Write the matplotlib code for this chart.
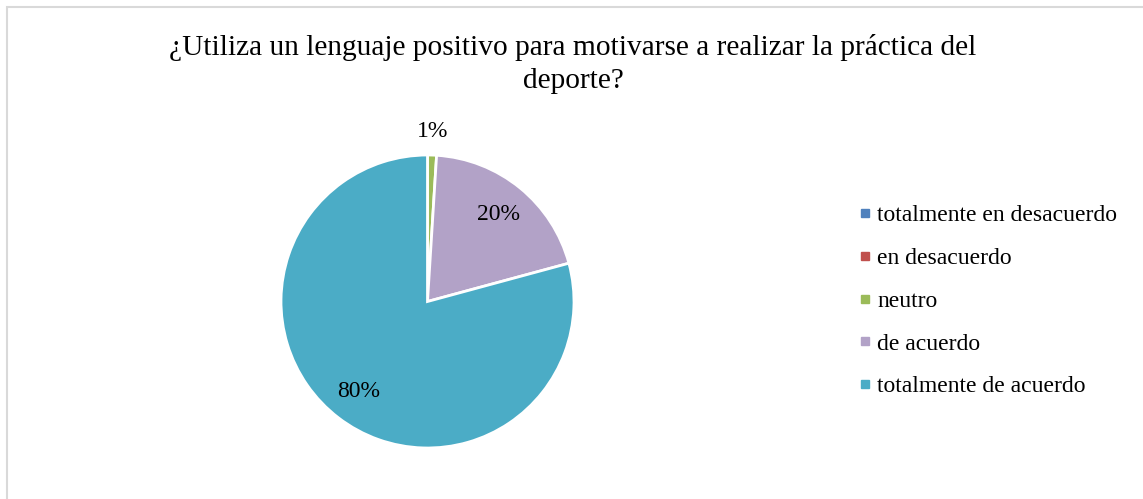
import numpy as np
import matplotlib.pyplot as plt
from matplotlib.lines import Line2D
from matplotlib.patches import Rectangle

plt.rcParams['font.family'] = ['Liberation Serif', 'DejaVu Serif']

# Survey answers (percent)
categories = ['totalmente en desacuerdo', 'en desacuerdo', 'neutro',
              'de acuerdo', 'totalmente de acuerdo']
values = [0, 0, 1, 20, 80]
colors = ['#4F81BD', '#C0504D', '#9BBB59', '#B2A2C7', '#4BACC6']
title = '¿Utiliza un lenguaje positivo para motivarse a realizar la práctica del\ndeporte?'

W, H = 1143, 499
fig = plt.figure(figsize=(W / 100, H / 100), dpi=100)

# chart area frame
fig.patches.append(Rectangle((7 / W, -0.1), 1.2, 1 - 7 / H + 0.1,
                             transform=fig.transFigure, fill=False,
                             edgecolor='#d9d9d9', lw=1.5))

cx, cy, r = 427.5, 301.5, 146.5
ax = fig.add_axes([(cx - r) / W, 1 - (cy + r) / H, 2 * r / W, 2 * r / H])
wedges, _ = ax.pie(values, colors=colors, startangle=90, counterclock=False,
                   radius=1, wedgeprops=dict(edgecolor='white', linewidth=2))
ax.set_xlim(-1, 1)
ax.set_ylim(-1, 1)
ax.set_aspect('equal')
ax.axis('off')

# percentage labels at wedge mid-angles
total = sum(values)
start = 0.0
for v in values:
    span = 360 * v / total
    if v > 0:
        mid = np.radians(start + span / 2)
        dist = 1.16 if v < 5 else 0.77
        ax.text(dist * np.sin(mid), dist * np.cos(mid), f'{v}%',
                ha='center', va='center', fontsize=17, clip_on=False)
    start += span

fig.text(573 / W, 1 - 64 / H, title, ha='center', va='center',
         fontsize=21.2, linespacing=1.35)

handles = [Line2D([], [], marker='s', linestyle='none', markersize=6,
                  markerfacecolor=c, markeredgecolor=c) for c in colors]
fig.legend(handles, categories, loc='center left',
           bbox_to_anchor=(838 / W, 1 - 301 / H), frameon=False,
           fontsize=17, handlelength=0.5, handletextpad=0.25,
           labelspacing=0.9)

fig.savefig('out.png', dpi=100)
